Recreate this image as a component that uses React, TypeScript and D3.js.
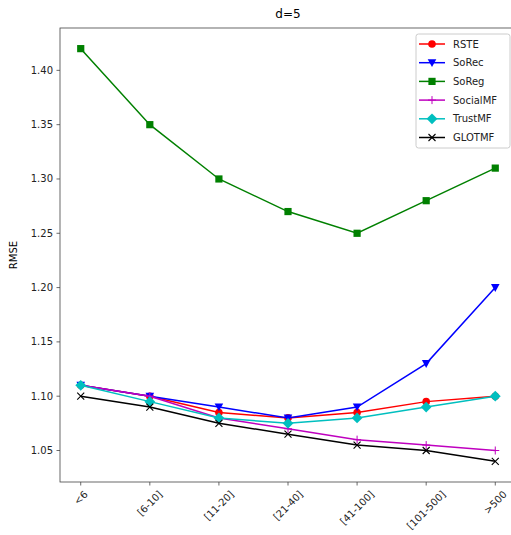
import React, { useRef, useEffect } from 'react';
import * as d3 from 'd3';

// chart data
const categories = ['<6', '[6-10]', '[11-20]', '[21-40]', '[41-100]', '[101-500]', '>500'];
const rste = [1.11, 1.1, 1.085, 1.08, 1.085, 1.095, 1.1];
const sorec = [1.11, 1.1, 1.09, 1.08, 1.09, 1.13, 1.2];
const soreg = [1.42, 1.35, 1.3, 1.27, 1.25, 1.28, 1.31];
const socialmf = [1.11, 1.1, 1.08, 1.07, 1.06, 1.055, 1.05];
const trustmf = [1.11, 1.095, 1.08, 1.075, 1.08, 1.09, 1.1];
const glotmf = [1.1, 1.09, 1.075, 1.065, 1.055, 1.05, 1.04];
const yTicks = [1.05, 1.1, 1.15, 1.2, 1.25, 1.3, 1.35, 1.4];

const series = [
  { name: 'RSTE', values: rste, color: '#ff0000', marker: 'circle' },
  { name: 'SoRec', values: sorec, color: '#0000ff', marker: 'tridown' },
  { name: 'SoReg', values: soreg, color: '#008000', marker: 'square' },
  { name: 'SocialMF', values: socialmf, color: '#bf00bf', marker: 'plus' },
  { name: 'TrustMF', values: trustmf, color: '#00bfbf', marker: 'diamond' },
  { name: 'GLOTMF', values: glotmf, color: '#000000', marker: 'x' },
];

const W = 511;
const H = 535;
const FONT = 'DejaVu Sans, sans-serif';

function drawMarker(g: any, type: string, x: number, y: number, color: string) {
  if (type === 'circle') {
    g.append('circle').attr('cx', x).attr('cy', y).attr('r', 3.8).attr('fill', color);
  } else if (type === 'square') {
    g.append('rect').attr('x', x - 3.6).attr('y', y - 3.6).attr('width', 7.2).attr('height', 7.2).attr('fill', color);
  } else if (type === 'tridown') {
    g.append('path').attr('d', `M${x - 4.3},${y - 3.5} L${x + 4.3},${y - 3.5} L${x},${y + 4.3} Z`).attr('fill', color);
  } else if (type === 'diamond') {
    g.append('path').attr('d', `M${x},${y - 5.4} L${x + 5.4},${y} L${x},${y + 5.4} L${x - 5.4},${y} Z`).attr('fill', color);
  } else if (type === 'plus') {
    g.append('path').attr('d', `M${x - 4},${y} L${x + 4},${y} M${x},${y - 4} L${x},${y + 4}`)
      .attr('stroke', color).attr('stroke-width', 1);
  } else if (type === 'x') {
    g.append('path').attr('d', `M${x - 3.5},${y - 3.5} L${x + 3.5},${y + 3.5} M${x - 3.5},${y + 3.5} L${x + 3.5},${y - 3.5}`)
      .attr('stroke', color).attr('stroke-width', 1.1);
  }
}

const App = () => {
  const svgRef = useRef<SVGSVGElement>(null);

  useEffect(() => {
    if (!svgRef.current) return;
    const svg = d3.select(svgRef.current);
    svg.selectAll('*').remove();

    const left = 60, right = 516, top = 28, bottom = 482;

    const x = d3.scaleLinear().domain([-0.3, categories.length - 1 + 0.3]).range([left, right]);
    const y = d3.scaleLinear().domain([1.021, 1.439]).range([bottom, top]);

    // title
    svg.append('text')
      .attr('x', (left + right) / 2).attr('y', 18)
      .attr('text-anchor', 'middle').attr('font-family', FONT).attr('font-size', 12)
      .text('d=5');

    // y label
    svg.append('text')
      .attr('transform', `translate(17,${(top + bottom) / 2}) rotate(-90)`)
      .attr('text-anchor', 'middle').attr('font-family', FONT).attr('font-size', 10)
      .text('RMSE');

    // series
    const line = d3.line<number>().x((d, i) => x(i)).y(d => y(d));
    series.forEach(s => {
      const g = svg.append('g');
      g.append('path').attr('d', line(s.values)).attr('fill', 'none')
        .attr('stroke', s.color).attr('stroke-width', 1.5);
      s.values.forEach((v, i) => drawMarker(g, s.marker, x(i), y(v), s.color));
    });

    // spines
    svg.append('rect').attr('x', left).attr('y', top).attr('width', right - left).attr('height', bottom - top)
      .attr('fill', 'none').attr('stroke', '#444').attr('stroke-width', 0.8);

    // y ticks
    yTicks.forEach(t => {
      svg.append('line').attr('x1', left - 3.5).attr('x2', left).attr('y1', y(t)).attr('y2', y(t))
        .attr('stroke', '#444').attr('stroke-width', 0.8);
      svg.append('text').attr('x', left - 7).attr('y', y(t)).attr('dy', '0.35em')
        .attr('text-anchor', 'end').attr('font-family', FONT).attr('font-size', 10).attr('fill', '#222')
        .text(t.toFixed(2));
    });

    // x ticks, rotated labels centred under the tick
    categories.forEach((c, i) => {
      const xi = x(i);
      svg.append('line').attr('x1', xi).attr('x2', xi).attr('y1', bottom).attr('y2', bottom + 3.5)
        .attr('stroke', '#444').attr('stroke-width', 0.8);
      const t = svg.append('text').attr('text-anchor', 'middle').attr('dy', '0.35em')
        .attr('font-family', FONT).attr('font-size', 10).attr('fill', '#222').text(c);
      const w = (t.node() as SVGTextElement).getComputedTextLength();
      const h = (w + 10) * Math.SQRT1_2;
      t.attr('transform', `translate(${xi},${bottom + 7 + h / 2}) rotate(-45)`);
    });

    // legend
    const lg = svg.append('g');
    const lx = 416, ly = 34;
    lg.append('rect').attr('x', lx).attr('y', ly).attr('width', 94).attr('height', 114).attr('rx', 2.5)
      .attr('fill', 'white').attr('fill-opacity', 0.8).attr('stroke', '#cccccc').attr('stroke-width', 1);
    series.forEach((s, i) => {
      const yy = ly + 10 + i * 18.7;
      lg.append('line').attr('x1', lx + 3).attr('x2', lx + 29).attr('y1', yy).attr('y2', yy)
        .attr('stroke', s.color).attr('stroke-width', 1.5);
      drawMarker(lg, s.marker, lx + 16, yy, s.color);
      lg.append('text').attr('x', lx + 37).attr('y', yy).attr('dy', '0.35em')
        .attr('font-family', FONT).attr('font-size', 10).attr('fill', '#222').text(s.name);
    });
  }, []);

  return (
    <svg ref={svgRef} width={W} height={H}
      style={{ position: 'absolute', left: 0, top: 0, background: 'white', overflow: 'hidden' }} />
  );
};

export default App;
